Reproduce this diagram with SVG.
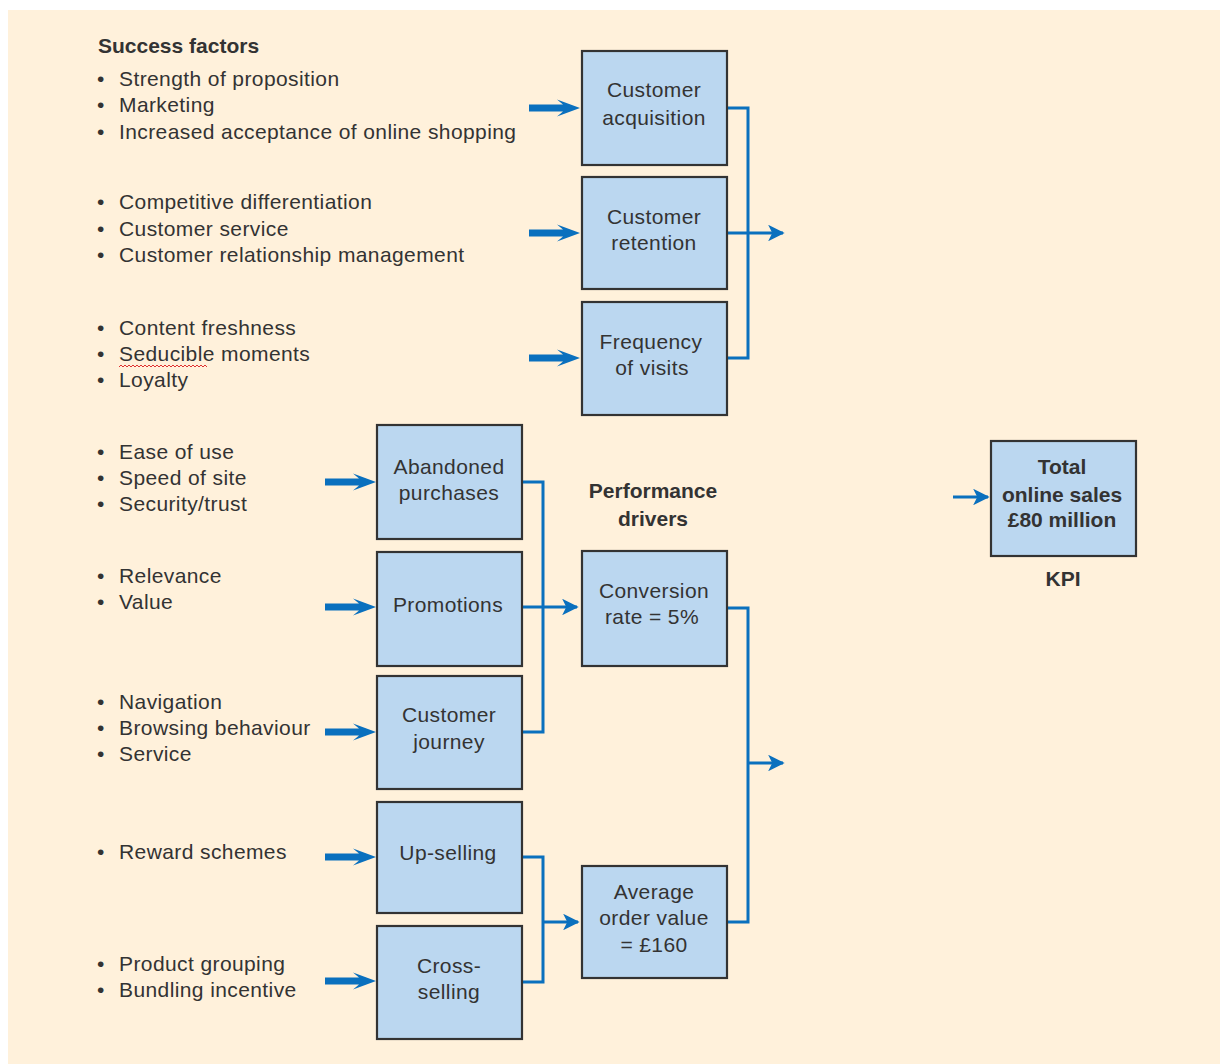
<svg xmlns="http://www.w3.org/2000/svg" width="1228" height="1064" viewBox="0 0 1228 1064">
  <style>
    .bg { fill: #fff1db; }
    .box { fill: #bbd7f0; stroke: #333333; stroke-width: 2.2; }
    .txt { font-family: "Liberation Sans", Arial, sans-serif; font-size: 21px; letter-spacing: 0.4px; fill: #333333; }
    .lbl { font-family: "Liberation Sans", Arial, sans-serif; font-size: 21px; letter-spacing: 0.4px; fill: #333333; text-anchor: middle; }
    .bold { font-weight: bold; letter-spacing: 0; }
    .link { fill: none; stroke: #0a70be; stroke-width: 3; }
    .fat { fill: #0a70be; }
  </style>
  <defs>
    <!-- thick input arrow, tip at origin pointing right -->
    <path id="fatArrow" d="M-51,-3.5 L-17,-3.5 L-23,-8.5 L0,0 L-23,8.5 L-17,3.5 L-51,3.5 Z"/>
    <marker id="head" viewBox="0 0 10 10" refX="9" refY="5" markerWidth="9" markerHeight="5.5" markerUnits="strokeWidth" orient="auto">
      <path d="M0,0 L10,5 L0,10 L2.5,5 Z" fill="#0a70be"/>
    </marker>
  </defs>

  <rect class="bg" x="8" y="10" width="1212" height="1054"/>

  <!-- success factor lists -->
  <g id="success-factors">
    <text class="txt bold" x="98" y="53" font-size="20">Success factors</text>
    <g class="txt">
      <text x="97" y="86">•</text><text x="119" y="86">Strength of proposition</text>
      <text x="97" y="112">•</text><text x="119" y="112">Marketing</text>
      <text x="97" y="139">•</text><text x="119" y="139">Increased acceptance of online shopping</text>

      <text x="97" y="209">•</text><text x="119" y="209">Competitive differentiation</text>
      <text x="97" y="236">•</text><text x="119" y="236">Customer service</text>
      <text x="97" y="262">•</text><text x="119" y="262">Customer relationship management</text>

      <text x="97" y="335">•</text><text x="119" y="335">Content freshness</text>
      <text x="97" y="361">•</text><text x="119" y="361">Seducible moments</text>
      <text x="97" y="387">•</text><text x="119" y="387">Loyalty</text>

      <text x="97" y="459">•</text><text x="119" y="459">Ease of use</text>
      <text x="97" y="485">•</text><text x="119" y="485">Speed of site</text>
      <text x="97" y="511">•</text><text x="119" y="511">Security/trust</text>

      <text x="97" y="583">•</text><text x="119" y="583">Relevance</text>
      <text x="97" y="609">•</text><text x="119" y="609">Value</text>

      <text x="97" y="709">•</text><text x="119" y="709">Navigation</text>
      <text x="97" y="735">•</text><text x="119" y="735">Browsing behaviour</text>
      <text x="97" y="761">•</text><text x="119" y="761">Service</text>

      <text x="97" y="859">•</text><text x="119" y="859">Reward schemes</text>

      <text x="97" y="971">•</text><text x="119" y="971">Product grouping</text>
      <text x="97" y="997">•</text><text x="119" y="997">Bundling incentive</text>
    </g>
    <!-- spell-check squiggle under "Seducible" -->
    <path d="M119,367 l2,-2 l2,2 l2,-2 l2,2 l2,-2 l2,2 l2,-2 l2,2 l2,-2 l2,2 l2,-2 l2,2 l2,-2 l2,2 l2,-2 l2,2 l2,-2 l2,2 l2,-2 l2,2 l2,-2 l2,2 l2,-2 l2,2 l2,-2 l2,2 l2,-2 l2,2 l2,-2 l2,2 l2,-2 l2,2 l2,-2 l2,2 l2,-2 l2,2 l2,-2 l2,2 l2,-2 l2,2 l2,-2 l2,2 l2,-2 l2,2" fill="none" stroke="#e03030" stroke-width="1"/>
  </g>

  <!-- headings -->
  <g id="performance-drivers-label">
    <text class="lbl bold" x="653" y="498" font-size="20">Performance</text>
    <text class="lbl bold" x="653" y="526" font-size="20">drivers</text>
  </g>
  <g id="kpi-label">
    <text class="lbl bold" x="1063" y="586" font-size="19">KPI</text>
  </g>

  <!-- connectors -->
  <g id="connectors">
    <!-- thick inputs from success factors -->
    <use href="#fatArrow" class="fat" transform="translate(580,108)"/>
    <use href="#fatArrow" class="fat" transform="translate(580,233)"/>
    <use href="#fatArrow" class="fat" transform="translate(580,358)"/>
    <use href="#fatArrow" class="fat" transform="translate(376,482)"/>
    <use href="#fatArrow" class="fat" transform="translate(376,607)"/>
    <use href="#fatArrow" class="fat" transform="translate(376,732)"/>
    <use href="#fatArrow" class="fat" transform="translate(376,857)"/>
    <use href="#fatArrow" class="fat" transform="translate(376,981)"/>

    <!-- customer drivers bracket -->
    <path class="link" d="M727,108 H748 V358 H727"/>
    <path class="link" d="M727,233 H783" marker-end="url(#head)"/>

    <!-- conversion bracket -->
    <path class="link" d="M522,482 H543 V732 H522"/>
    <path class="link" d="M522,607 H577" marker-end="url(#head)"/>

    <!-- order value bracket -->
    <path class="link" d="M522,857 H543 V982 H522"/>
    <path class="link" d="M543,922 H578" marker-end="url(#head)"/>

    <!-- performance drivers bracket -->
    <path class="link" d="M727,608 H748 V922 H727"/>
    <path class="link" d="M748,763 H783" marker-end="url(#head)"/>

    <!-- into KPI -->
    <path class="link" d="M953,497 H988" stroke-width="2.5" marker-end="url(#head)"/>
  </g>

  <!-- nodes -->
  <g id="customer-acquisition">
    <rect class="box" x="582" y="51" width="145" height="114"/>
    <text class="lbl" x="654" y="97">Customer</text>
    <text class="lbl" x="654" y="125">acquisition</text>
  </g>
  <g id="customer-retention">
    <rect class="box" x="582" y="177" width="145" height="112"/>
    <text class="lbl" x="654" y="224">Customer</text>
    <text class="lbl" x="654" y="250">retention</text>
  </g>
  <g id="frequency-of-visits">
    <rect class="box" x="582" y="302" width="145" height="113"/>
    <text class="lbl" x="651" y="349">Frequency</text>
    <text class="lbl" x="652" y="375">of visits</text>
  </g>

  <g id="abandoned-purchases">
    <rect class="box" x="377" y="425" width="145" height="114"/>
    <text class="lbl" x="449" y="474">Abandoned</text>
    <text class="lbl" x="449" y="500">purchases</text>
  </g>
  <g id="promotions">
    <rect class="box" x="377" y="552" width="145" height="114"/>
    <text class="lbl" x="448" y="612">Promotions</text>
  </g>
  <g id="customer-journey">
    <rect class="box" x="377" y="676" width="145" height="113"/>
    <text class="lbl" x="449" y="722">Customer</text>
    <text class="lbl" x="449" y="749">journey</text>
  </g>
  <g id="up-selling">
    <rect class="box" x="377" y="802" width="145" height="111"/>
    <text class="lbl" x="448" y="860">Up-selling</text>
  </g>
  <g id="cross-selling">
    <rect class="box" x="377" y="926" width="145" height="113"/>
    <text class="lbl" x="449" y="973">Cross-</text>
    <text class="lbl" x="449" y="999">selling</text>
  </g>

  <g id="conversion-rate">
    <rect class="box" x="582" y="551" width="145" height="115"/>
    <text class="lbl" x="654" y="598">Conversion</text>
    <text class="lbl" x="652" y="624">rate = 5%</text>
  </g>
  <g id="average-order-value">
    <rect class="box" x="582" y="866" width="145" height="112"/>
    <text class="lbl" x="654" y="899">Average</text>
    <text class="lbl" x="654" y="925">order value</text>
    <text class="lbl" x="654" y="952">= £160</text>
  </g>

  <g id="total-online-sales">
    <rect class="box" x="991" y="441" width="145" height="115"/>
    <text class="lbl bold" x="1062" y="474" font-size="19">Total</text>
    <text class="lbl bold" x="1062" y="502" font-size="19">online sales</text>
    <text class="lbl bold" x="1062" y="527" font-size="19">£80 million</text>
  </g>
</svg>
